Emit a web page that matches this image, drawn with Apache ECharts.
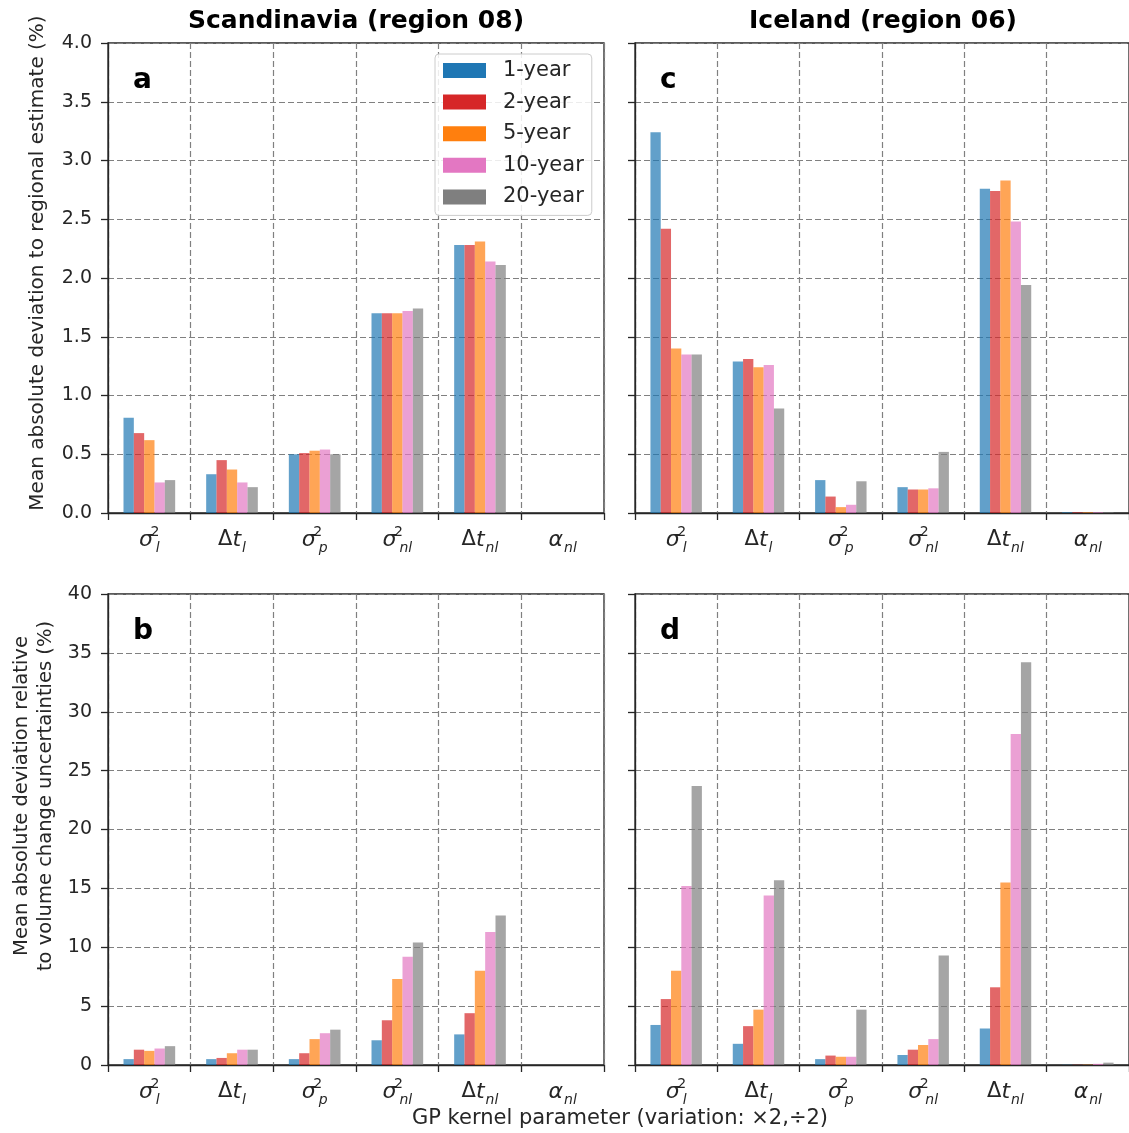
<!DOCTYPE html>
<html>
<head>
<meta charset="utf-8">
<script src="https://cdn.jsdelivr.net/npm/echarts@6/dist/echarts.min.js"></script>
<style>
html,body{margin:0;padding:0;background:#fff;}
#chart{width:1129px;height:1133px;}
</style>
</head>
<body>
<div id="chart"></div>
<script>
// ---------------- DATA ----------------
const categories = ['σ_l^2', 'Δt_l', 'σ_p^2', 'σ_nl^2', 'Δt_nl', 'α_nl'];
const seriesNames = ['1-year', '2-year', '5-year', '10-year', '20-year'];
const seriesColors = ['#1f77b4', '#d62728', '#ff7f0e', '#e377c2', '#7f7f7f'];

const panelTitles = ['Scandinavia (region 08)', 'Iceland (region 06)'];
const panelLetters = ['a', 'c', 'b', 'd'];
const yNameTop = 'Mean absolute deviation to regional estimate (%)';
const yNameBottom = ['Mean absolute deviation relative', 'to volume change uncertainties (%)'];
const xName = 'GP kernel parameter (variation: ×2,÷2)';

// Panel a: Scandinavia, deviation to regional estimate (%)
const a_1yr  = [0.81, 0.33, 0.50, 1.70, 2.28, 0];
const a_2yr  = [0.68, 0.45, 0.51, 1.70, 2.28, 0];
const a_5yr  = [0.62, 0.37, 0.53, 1.70, 2.31, 0];
const a_10yr = [0.26, 0.26, 0.54, 1.72, 2.14, 0];
const a_20yr = [0.28, 0.22, 0.50, 1.74, 2.11, 0];

// Panel c: Iceland, deviation to regional estimate (%)
const c_1yr  = [3.24, 1.29, 0.28, 0.22, 2.76, 0.006];
const c_2yr  = [2.42, 1.31, 0.14, 0.20, 2.74, 0.006];
const c_5yr  = [1.40, 1.24, 0.05, 0.20, 2.83, 0.006];
const c_10yr = [1.35, 1.26, 0.07, 0.21, 2.48, 0.006];
const c_20yr = [1.35, 0.89, 0.27, 0.52, 1.94, 0.006];

// Panel b: Scandinavia, relative to volume change uncertainties (%)
const b_1yr  = [0.5, 0.5, 0.5, 2.1, 2.6, 0];
const b_2yr  = [1.3, 0.6, 1.0, 3.8, 4.4, 0];
const b_5yr  = [1.2, 1.0, 2.2, 7.3, 8.0, 0];
const b_10yr = [1.4, 1.3, 2.7, 9.2, 11.3, 0];
const b_20yr = [1.6, 1.3, 3.0, 10.4, 12.7, 0];

// Panel d: Iceland, relative to volume change uncertainties (%)
const d_1yr  = [3.4, 1.8, 0.5, 0.85, 3.1, 0.02];
const d_2yr  = [5.6, 3.3, 0.8, 1.3, 6.6, 0.02];
const d_5yr  = [8.0, 4.7, 0.7, 1.7, 15.5, 0.03];
const d_10yr = [15.2, 14.4, 0.7, 2.2, 28.1, 0.1];
const d_20yr = [23.7, 15.7, 4.7, 9.3, 34.2, 0.2];

const yTopMax = 4.0, yTopStep = 0.5;
const yBotMax = 40, yBotStep = 5;

// ---------------- CHART ----------------
const panels = [
  [a_1yr, a_2yr, a_5yr, a_10yr, a_20yr],
  [c_1yr, c_2yr, c_5yr, c_10yr, c_20yr],
  [b_1yr, b_2yr, b_5yr, b_10yr, b_20yr],
  [d_1yr, d_2yr, d_5yr, d_10yr, d_20yr]
];

const FONT = "'DejaVu Sans', sans-serif";
const TXT = '#262626';

const grids = [
  {left: 108, top: 43, width: 496, height: 470},
  {left: 635, top: 43, width: 496, height: 470},
  {left: 108, top: 594, width: 496, height: 471},
  {left: 635, top: 594, width: 496, height: 471}
].map(g => Object.assign(g, {show: true, borderColor: '#262626', borderWidth: 1.3, backgroundColor: 'transparent', containLabel: false}));

function catLabel(s) {
  const m = s.match(/^(Δ)?([σαt])_(\w+)(?:\^(\d))?$/);
  if (!m) return s;
  let out = '';
  if (m[1]) out += '{u|Δ}';
  out += '{g|' + m[2] + '}';
  if (m[4]) out += '{sp|' + m[4] + '}';
  out += '{sb|' + m[3] + '}';
  return out;
}

const dashed = {color: '#808080', width: 1.2, type: [6, 3]};

const xAxes = grids.map((g, i) => ({
  type: 'category', gridIndex: i, data: categories, boundaryGap: true,
  axisLine: {show: true, lineStyle: {color: '#262626', width: 1.3}},
  axisTick: {show: true, length: 7, interval: 0, lineStyle: {color: '#262626', width: 1.3}},
  splitLine: {show: true, interval: 0, lineStyle: dashed},
  axisLabel: {
    interval: 0, margin: 12, color: TXT, fontFamily: FONT,
    formatter: v => catLabel(v),
    rich: {
      g: {fontSize: 22, fontStyle: 'italic', fontFamily: FONT, color: TXT, lineHeight: 30},
      u: {fontSize: 21, fontFamily: FONT, color: TXT, lineHeight: 30},
      sp: {fontSize: 14, fontFamily: FONT, color: TXT, width: 0, align: 'left', verticalAlign: 'top', lineHeight: 13, padding: [0, 0, 0, 2]},
      sb: {fontSize: 14, fontStyle: 'italic', fontFamily: FONT, color: TXT, verticalAlign: 'bottom', lineHeight: 17, padding: [0, 0, 0, 1]}
    }
  }
}));

const yAxes = grids.map((g, i) => {
  const top = i < 2;
  return {
    type: 'value', gridIndex: i, min: 0,
    max: top ? yTopMax : yBotMax, interval: top ? yTopStep : yBotStep,
    axisLine: {show: true, lineStyle: {color: '#262626', width: 1.3}},
    axisTick: {show: true, length: 7, lineStyle: {color: '#262626', width: 1.3}},
    splitLine: {show: true, lineStyle: dashed},
    axisLabel: {
      show: i % 2 === 0, margin: 16, color: TXT, fontFamily: FONT, fontSize: 19,
      formatter: v => top ? v.toFixed(1) : String(v)
    }
  };
});

const series = [];
panels.forEach((p, pi) => {
  p.forEach((vals, si) => {
    series.push({
      type: 'bar', name: seriesNames[si], xAxisIndex: pi, yAxisIndex: pi,
      data: vals, barGap: '0%', barCategoryGap: '37.5%',
      itemStyle: {color: seriesColors[si], opacity: 0.7},
      emphasis: {disabled: true}, animation: false
    });
  });
});

const graphics = [];
const titleCenters = [356, 883];
panelTitles.forEach((t, i) => graphics.push({
  type: 'text', x: titleCenters[i], y: 21,
  style: {text: t, font: "bold 25px 'DejaVu Sans'", fill: '#000', align: 'center', verticalAlign: 'middle'}
}));
const letterPos = [[133, 81], [660, 81], [133, 632], [660, 632]];
panelLetters.forEach((l, i) => graphics.push({
  type: 'text', x: letterPos[i][0], y: letterPos[i][1],
  style: {text: l, font: "bold 28px 'DejaVu Sans'", fill: '#000', align: 'left', verticalAlign: 'middle'}
}));
graphics.push({
  type: 'text', x: 38, y: 263, rotation: Math.PI / 2,
  style: {text: yNameTop, font: "20px 'DejaVu Sans'", fill: TXT, align: 'center', verticalAlign: 'middle'}
});
graphics.push({
  type: 'text', x: 22, y: 796, rotation: Math.PI / 2,
  style: {text: yNameBottom[0], font: "19.5px 'DejaVu Sans'", fill: TXT, align: 'center', verticalAlign: 'middle'}
});
graphics.push({
  type: 'text', x: 46, y: 796, rotation: Math.PI / 2,
  style: {text: yNameBottom[1], font: "19.5px 'DejaVu Sans'", fill: TXT, align: 'center', verticalAlign: 'middle'}
});
graphics.push({
  type: 'text', x: 620, y: 1119,
  style: {text: xName, font: "21px 'DejaVu Sans'", fill: TXT, align: 'center', verticalAlign: 'middle'}
});

const option = {
  backgroundColor: '#fff',
  animation: false,
  grid: grids,
  xAxis: xAxes,
  yAxis: yAxes,
  series: series,
  legend: {
    orient: 'vertical', left: 435, top: 54,
    data: seriesNames.map(n => ({name: n, icon: 'rect', itemStyle: {opacity: 1}})),
    itemWidth: 43, itemHeight: 15, itemGap: 10.6,
    padding: [6, 8, 8, 8],
    backgroundColor: 'rgba(255,255,255,0.85)', borderColor: '#cccccc', borderWidth: 1, borderRadius: 4,
    textStyle: {fontSize: 21, fontFamily: FONT, color: TXT, lineHeight: 21, padding: [0, 0, 0, 12]},
    selectedMode: false
  },
  graphic: graphics
};

const chart = echarts.init(document.getElementById('chart'), null, {renderer: 'canvas'});
chart.setOption(option);
</script>
</body>
</html>
